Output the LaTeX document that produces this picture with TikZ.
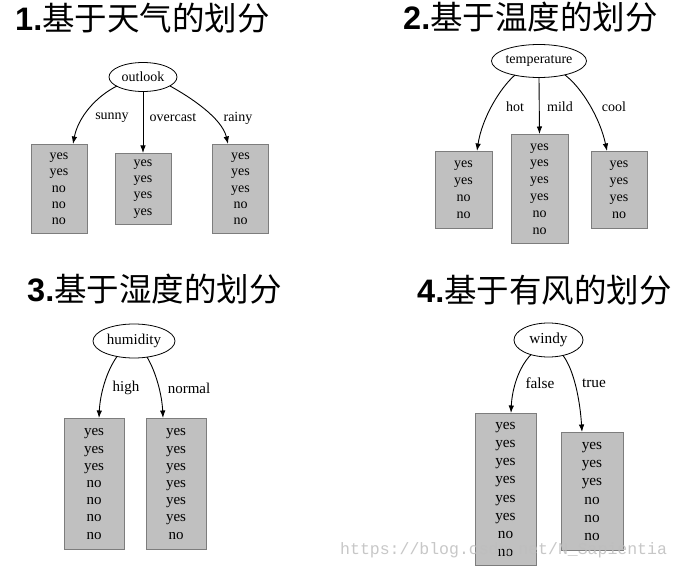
\documentclass[tikz,border=0pt]{standalone}
\usepackage{fontspec}
\setmainfont{Liberation Serif}
\setsansfont{Liberation Sans}
\setmonofont{Liberation Mono}
\newfontfamily\cjk{Noto Sans CJK SC}
\usetikzlibrary{shapes.geometric,arrows.meta}
\definecolor{boxfill}{RGB}{192,192,192}
\definecolor{boxline}{RGB}{125,125,125}
\definecolor{wmark}{RGB}{190,190,190}
\begin{document}
\begin{tikzpicture}[x=1pt,y=-1pt,
  title/.style={anchor=west,inner sep=0,font=\fontsize{32.5}{32.5}\selectfont},
  leaf/.style={draw=boxline,fill=boxfill,line width=0.9pt,anchor=north,align=center,inner sep=0},
  attr/.style={draw,ellipse,inner sep=0,line width=0.8pt},
  lbl/.style={inner sep=0},
  fa/.style={font=\fontsize{14}{16.4}\selectfont},
  fb/.style={font=\fontsize{14}{16.8}\selectfont},
  fc/.style={font=\fontsize{15}{17.2}\selectfont},
  fd/.style={font=\fontsize{15.3}{18.2}\selectfont},
  branch/.style={-{Latex[length=7.5pt,width=5.5pt]},line width=0.9pt}]
\useasboundingbox (0,0) rectangle (681,569);
\fill[white] (0,0) rectangle (681,569);

% titles
\node[title] (t1) at (15,18) {\textbf{\sffamily 1.}{\cjk 基于天气的划分}};
\node[title] (t2) at (403,17) {\textbf{\sffamily 2.}{\cjk 基于温度的划分}};
\node[title] (t3) at (27,289) {\textbf{\sffamily 3.}{\cjk 基于湿度的划分}};
\node[title] (t4) at (417,290) {\textbf{\sffamily 4.}{\cjk 基于有风的划分}};

% tree 1
\node[attr,fa,minimum width=68pt,minimum height=29pt] (o1) at (143,77) {outlook};
\node[leaf,fa,minimum width=56pt,minimum height=89pt] (b11) at (59,144) {yes\\yes\\no\\no\\no};
\node[leaf,fa,minimum width=56pt,minimum height=71pt] (b12) at (143,153) {yes\\yes\\yes\\yes};
\node[leaf,fa,minimum width=56pt,minimum height=89pt] (b13) at (240.5,144) {yes\\yes\\yes\\no\\no};
\node[lbl,fa] (l11) at (112,118) {sunny};
\node[lbl,fa] (l12) at (173,118) {overcast};
\node[lbl,fa] (l13) at (238,118) {rainy};
\draw[branch] ([xshift=-26pt,yshift=-9pt]o1.center) .. controls (95,97) and (78,118) .. ([xshift=14pt]b11.north);
\draw[branch] (o1.south) -- (b12.north);
\draw[branch] ([xshift=27pt,yshift=-9pt]o1.center) .. controls (190,97) and (222,118) .. ([xshift=-12.5pt]b13.north);

% tree 2
\node[attr,fb,minimum width=95pt,minimum height=33pt] (o2) at (539,61) {temperature};
\node[leaf,fb,minimum width=57pt,minimum height=77pt] (b21) at (463.5,151) {yes\\yes\\no\\no};
\node[leaf,fb,minimum width=57pt,minimum height=109pt] (b22) at (539.5,134) {yes\\yes\\yes\\yes\\no\\no};
\node[leaf,fb,minimum width=56pt,minimum height=77pt] (b23) at (619,151) {yes\\yes\\yes\\no};
\node[lbl,fb] (l21) at (515,107) {hot};
\node[lbl,fb] (l22) at (560,107) {mild};
\node[lbl,fb] (l23) at (614,107) {cool};
\draw[branch] ([xshift=-24pt,yshift=-14pt]o2.center) .. controls (500,88) and (482,118) .. ([xshift=13.5pt]b21.north);
\draw[branch] (o2.south) -- (b22.north);
\draw[branch] ([xshift=26pt,yshift=-14pt]o2.center) .. controls (582,88) and (600,118) .. ([xshift=-12pt]b23.north);

% tree 3
\node[attr,fc,minimum width=82pt,minimum height=34pt] (o3) at (134,341) {humidity};
\node[leaf,fc,minimum width=60pt,minimum height=131pt] (b31) at (94,418) {yes\\yes\\yes\\no\\no\\no\\no};
\node[leaf,fc,minimum width=60pt,minimum height=131pt] (b32) at (176,418) {yes\\yes\\yes\\yes\\yes\\yes\\no};
\node[lbl,fc] (l31) at (126,388) {high};
\node[lbl,fc] (l32) at (189,388) {normal};
\draw[branch] ([xshift=-17pt,yshift=-15.5pt]o3.center) .. controls (106,372) and (100,395) .. ([xshift=5pt]b31.north);
\draw[branch] ([xshift=13pt,yshift=-16pt]o3.center) .. controls (156,372) and (162,395) .. ([xshift=-13pt]b32.north);

% tree 4
\node[attr,fd,minimum width=69pt,minimum height=34pt] (o4) at (548.5,340) {windy};
\node[leaf,fd,minimum width=61pt,minimum height=152pt] (b41) at (505.5,413) {yes\\yes\\yes\\yes\\yes\\yes\\no\\no};
\node[leaf,fd,minimum width=62pt,minimum height=118pt] (b42) at (592,432) {yes\\yes\\yes\\no\\no\\no};
\node[lbl,fd] (l41) at (540,383) {false};
\node[lbl,fd] (l42) at (594,383) {true};
\draw[branch] ([xshift=-17.5pt,yshift=-14.6pt]o4.center) .. controls (518,368) and (512,390) .. ([xshift=5.5pt]b41.north);
\draw[branch] ([xshift=14.5pt,yshift=-15.4pt]o4.center) .. controls (574,370) and (580,400) .. ([xshift=-10pt]b42.north);

% watermark
\node[anchor=west,inner sep=0,text=wmark,opacity=0.85,font=\fontsize{16.5}{16.5}\ttfamily] (wm) at (340,550) {https://blog.csdn.net/N\_Sapientia};
\end{tikzpicture}
\end{document}
